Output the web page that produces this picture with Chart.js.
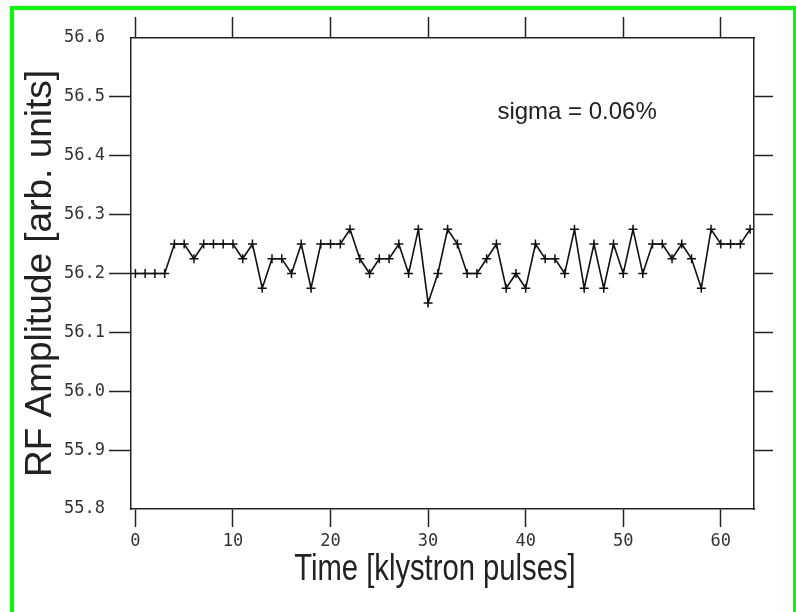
<!DOCTYPE html>
<html>
<head>
<meta charset="utf-8">
<script src="https://cdn.jsdelivr.net/npm/chart.js@4.4.1/dist/chart.umd.min.js"></script>
<style>
  body { margin: 0; background: #fff; }
  #frame { position: absolute; left: 10px; top: 6px; width: 787px; height: 620px;
           box-sizing: border-box; border: 4px solid #00ff00; }
  #plot { position: absolute; left: 0; top: 0; }
</style>
</head>
<body>
<div id="frame"></div>
<canvas id="plot" width="796" height="612"></canvas>
<script>
/* ------------------------- */
/* DATA                      */
/* ------------------------- */
const pulses = [0, 1, 2, 3, 4, 5, 6, 7, 8, 9, 10, 11, 12, 13, 14, 15,
  16, 17, 18, 19, 20, 21, 22, 23, 24, 25, 26, 27, 28, 29, 30, 31,
  32, 33, 34, 35, 36, 37, 38, 39, 40, 41, 42, 43, 44, 45, 46, 47,
  48, 49, 50, 51, 52, 53, 54, 55, 56, 57, 58, 59, 60, 61, 62, 63];

const amplitude = [56.2, 56.2, 56.2, 56.2, 56.25, 56.25, 56.225, 56.25,
  56.25, 56.25, 56.25, 56.225, 56.25, 56.175, 56.225, 56.225,
  56.2, 56.25, 56.175, 56.25, 56.25, 56.25, 56.275, 56.225,
  56.2, 56.225, 56.225, 56.25, 56.2, 56.275, 56.15, 56.2,
  56.275, 56.25, 56.2, 56.2, 56.225, 56.25, 56.175, 56.2,
  56.175, 56.25, 56.225, 56.225, 56.2, 56.275, 56.175, 56.25,
  56.175, 56.25, 56.2, 56.275, 56.2, 56.25, 56.25, 56.225,
  56.25, 56.225, 56.175, 56.275, 56.25, 56.25, 56.25, 56.275];

const xTicks = [0, 10, 20, 30, 40, 50, 60];
const yTicks = [55.8, 55.9, 56.0, 56.1, 56.2, 56.3, 56.4, 56.5, 56.6];

const xTitle = "Time [klystron pulses]";
const yTitle = "RF Amplitude [arb. units]";
const sigmaNote = "sigma = 0.06%";

/* ------------------------- */
/* STYLE                     */
/* ------------------------- */
const ink = "#222";
const tickFont = { family: '"DejaVu Sans Mono", monospace', size: 17 };

// hide the tick marks that sit on the frame corners
function innerTickColor(ctx) {
  return (ctx.index === 0 || ctx.index === yTicks.length - 1) ? "rgba(0,0,0,0)" : ink;
}

function setTicks(list) {
  return scale => { scale.ticks = list.map(v => ({ value: v })); };
}

// sigma note + the narrow x axis title (original is a squeezed font)
const extraText = {
  id: "extraText",
  afterDraw(chart) {
    const { ctx, scales } = chart;
    ctx.save();
    ctx.fillStyle = ink;
    ctx.font = '24px "Liberation Sans", Arial, sans-serif';
    ctx.textAlign = "left";
    ctx.textBaseline = "middle";
    ctx.fillText(sigmaNote, scales.x.getPixelForValue(37.1), scales.y.getPixelForValue(56.474));

    ctx.font = '37px "Liberation Sans", Arial, sans-serif';
    ctx.textAlign = "center";
    ctx.textBaseline = "alphabetic";
    ctx.translate(scales.x.getPixelForValue(30.7), 580);
    ctx.scale(0.79, 1);
    ctx.fillText(xTitle, 0, 0);
    ctx.restore();
  }
};

/* ------------------------- */
/* CHART                     */
/* ------------------------- */
new Chart(document.getElementById("plot"), {
  type: "line",
  data: {
    datasets: [{
      data: pulses.map((t, i) => ({ x: t, y: amplitude[i] })),
      borderColor: "#111",
      borderWidth: 1.6,
      tension: 0,
      pointStyle: "cross",
      pointRadius: 4.5,
      pointBorderWidth: 1.5,
      pointBorderColor: "#111",
      fill: false
    }]
  },
  options: {
    responsive: false,
    animation: false,
    layout: { padding: 0 },
    plugins: { legend: { display: false }, tooltip: { enabled: false } },
    scales: {
      x: {
        type: "linear", position: "bottom", min: -0.45, max: 63.4,
        afterBuildTicks: setTicks(xTicks),
        afterFit: s => { s.height = 103; },
        grid: { drawOnChartArea: false, tickLength: 18, tickColor: ink, tickWidth: 1.5 },
        border: { color: ink, width: 1.5 },
        ticks: { font: tickFont, color: "#333", padding: 4, maxRotation: 0 }
      },
      x2: {
        type: "linear", position: "top", min: -0.45, max: 63.4,
        afterBuildTicks: setTicks(xTicks),
        afterFit: s => { s.height = 38; },
        grid: { drawOnChartArea: false, tickLength: 21, tickColor: ink, tickWidth: 1.5 },
        border: { color: ink, width: 1.5 },
        ticks: { display: false }
      },
      y: {
        type: "linear", position: "left", min: 55.8, max: 56.6,
        afterBuildTicks: setTicks(yTicks),
        afterFit: s => { s.width = 131; },
        grid: { drawOnChartArea: false, tickLength: 22, tickColor: innerTickColor, tickWidth: 1.5 },
        border: { color: ink, width: 1.5 },
        ticks: { font: tickFont, color: "#333", padding: 4, callback: v => v.toFixed(1) },
        title: {
          display: true, text: yTitle, color: ink,
          font: { family: '"Liberation Sans", Arial', size: 37 },
          padding: { top: 19, bottom: 0 }
        }
      },
      y2: {
        type: "linear", position: "right", min: 55.8, max: 56.6,
        afterBuildTicks: setTicks(yTicks),
        afterFit: s => { s.width = 42; },
        grid: { drawOnChartArea: false, tickLength: 19, tickColor: innerTickColor, tickWidth: 1.5 },
        border: { color: ink, width: 1.5 },
        ticks: { display: false }
      }
    }
  },
  plugins: [extraText]
});
</script>
</body>
</html>
